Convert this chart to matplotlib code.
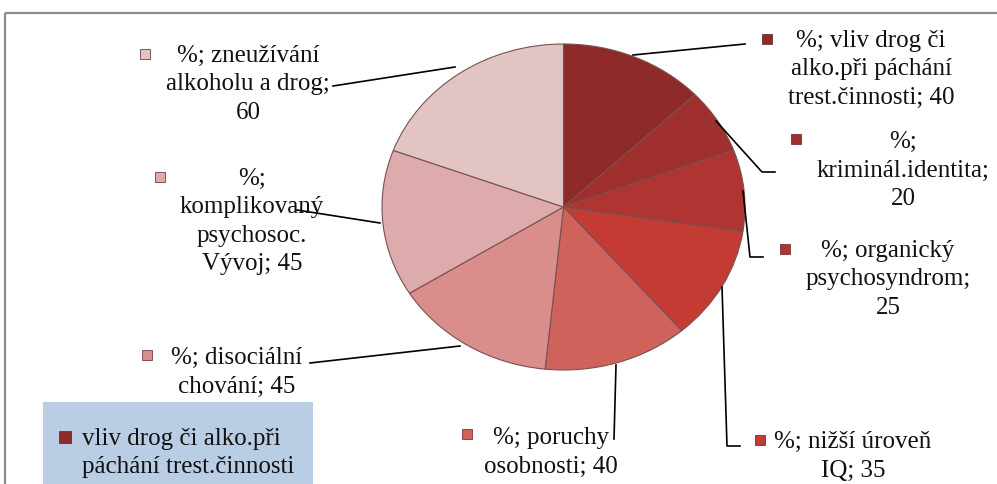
"""Pie chart of risk factors (values in %), recreated with matplotlib."""
import matplotlib.pyplot as plt
from matplotlib.patches import Rectangle

plt.rcParams["font.family"] = ["Liberation Serif", "DejaVu Serif"]

# data
categories = [
    "vliv drog či alko.při páchání trest.činnosti",
    "kriminál.identita",
    "organický psychosyndrom",
    "nižší úroveň IQ",
    "poruchy osobnosti",
    "disociální chování",
    "komplikovaný psychosoc. Vývoj",
    "zneužívání alkoholu a drog",
]
values = [40, 20, 25, 35, 40, 45, 45, 60]
# wrapped category text as it appears in the data labels
wrapped = [
    " vliv drog či\nalko.při páchání\ntrest.činnosti",
    "\nkriminál.identita",
    " organický\npsychosyndrom",
    " nižší úroveň\nIQ",
    " poruchy\nosobnosti",
    " disociální\nchování",
    "\nkomplikovaný\npsychosoc.\nVývoj",
    " zneužívání\nalkoholu a drog",
]
value_sep = [" ", "\n", "\n", " ", " ", " ", " ", "\n"]

colors = ["#8e2a2a", "#a0302d", "#ae3531", "#c33b33",
          "#d0625c", "#d98e8c", "#ddabab", "#e3c4c4"]

# layout (pixels in a 997x485 canvas)
W, H = 997, 485
PIE_BOX = (382, 45, 745, 371)          # left, top, right, bottom of the (slightly flat) pie
label_pos = [(871, 40), (903, 141), (888, 250), (853, 441),
             (551, 437), (237, 357), (252, 178), (248, 55)]
marker_pos = [(767, 40), (796, 140), (785, 250), (760, 441),
              (467, 435), (147, 356), (160, 178), (145, 55)]
leaders = [
    [(633, 56), (745, 45)],
    [(716, 122), (762, 173), (775, 173)],
    [(743, 192), (750, 258), (763, 258)],
    [(722, 288), (727, 447), (740, 447)],
    [(616, 366), (614, 440)],
    [(460, 347), (310, 364)],
    [(380, 224), (297, 211)],
    [(455, 68), (333, 87)],
]
FS = 18
LSP = 1.38
TOP_OFF = 10     # px from first-line centre to text top

fig = plt.figure(figsize=(W / 100, H / 100), dpi=100)

# pie
l, t, r, b = PIE_BOX
ax = fig.add_axes([l / W, 1 - b / H, (r - l) / W, (b - t) / H])
ax.pie(values, colors=colors, startangle=90, counterclock=False,
       wedgeprops=dict(edgecolor="#7a5050", linewidth=0.8))
ax.set_aspect("auto")
ax.set_xlim(-1, 1)
ax.set_ylim(-1, 1)
ax.axis("off")

# overlay in pixel coords for labels, leader lines, border and legend
ov = fig.add_axes([0, 0, 1, 1], zorder=3)
ov.set_xlim(0, W)
ov.set_ylim(H, 0)
ov.axis("off")

# chart border
ov.plot([5, W], [14, 14], color="#8c8c8c", lw=1.6, solid_capstyle="butt")
ov.plot([5, 5], [14, H], color="#8c8c8c", lw=1.6, solid_capstyle="butt")

for i, (name, sep, val) in enumerate(zip(wrapped, value_sep, values)):
    txt = f"%;{name};{sep}{val}"
    x, y = label_pos[i]
    ov.text(x, y - TOP_OFF, txt, ha="center", va="top", fontsize=FS,
            linespacing=LSP, multialignment="center", color="#111111")
    mx, my = marker_pos[i]
    ov.plot(mx, my, marker="s", ms=7, color=colors[i],
            markeredgecolor="#5a2020", markeredgewidth=0.5)
    xs, ys = zip(*leaders[i])
    ov.plot(xs, ys, color="black", lw=1.2)

# legend box (cut by the bottom edge, like the original)
ov.add_patch(Rectangle((43, 403), 270, H - 403 + 5, facecolor="#b9cde5",
                       edgecolor="none", zorder=1))
ov.plot(65, 438, marker="s", ms=8, color=colors[0],
        markeredgecolor="#5a2020", markeredgewidth=0.5, zorder=2)
ov.text(82, 438 - TOP_OFF, "vliv drog či alko.při\npáchání trest.činnosti",
        ha="left", va="top", fontsize=FS, linespacing=LSP, zorder=2,
        color="#111111")

fig.savefig("out.png", dpi=100)
